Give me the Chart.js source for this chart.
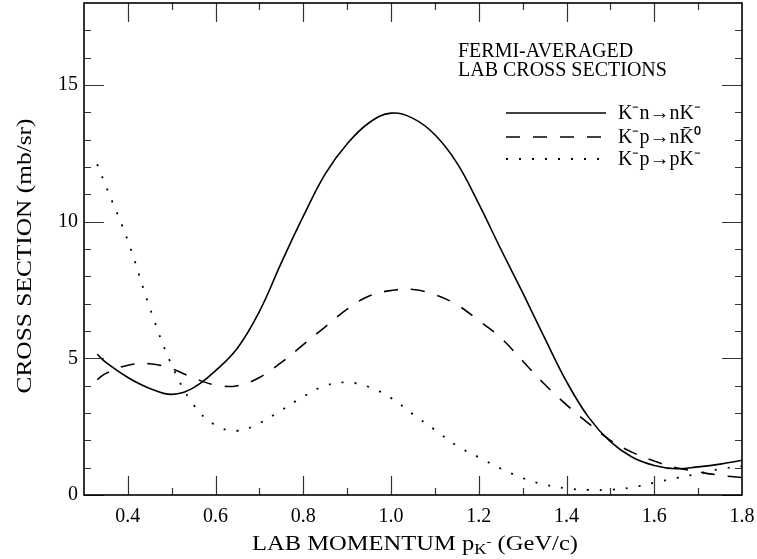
<!DOCTYPE html>
<html><head><meta charset="utf-8">
<script src="https://cdn.jsdelivr.net/npm/chart.js@4.4.0/dist/chart.umd.min.js"></script>
<style>html,body{margin:0;padding:0;background:#fff}canvas{display:block}</style>
</head><body>
<canvas id="c" width="757" height="559"></canvas>
<script>
// ---- data ----
const momentum = [0.33,0.35,0.40,0.45,0.50,0.55,0.60,0.65,0.70,0.75,0.80,0.85,0.90,0.95,1.00,1.05,1.10,1.15,1.20,1.25,1.30,1.35,1.40,1.45,1.50,1.55,1.60,1.65,1.70,1.75,1.80];
const knToNk  = [5.15,4.85,4.30,3.90,3.68,3.93,4.55,5.38,6.72,8.50,10.20,11.75,12.85,13.62,13.97,13.78,13.18,12.15,10.65,9.00,7.40,5.75,4.15,2.85,1.95,1.38,1.08,0.96,1.03,1.13,1.27];
const kpToNk0 = [4.22,4.45,4.75,4.80,4.62,4.28,4.02,4.00,4.30,4.85,5.50,6.15,6.80,7.28,7.48,7.52,7.33,6.96,6.38,5.75,4.90,4.05,3.30,2.62,2.00,1.56,1.24,1.00,0.85,0.72,0.64];
const kpToPk  = [12.10,11.30,9.30,6.85,4.75,3.30,2.55,2.35,2.63,3.10,3.60,4.00,4.12,3.95,3.55,2.95,2.38,1.80,1.38,0.97,0.62,0.38,0.24,0.19,0.19,0.28,0.45,0.62,0.78,0.95,1.05];
const seriesLabels = ['K\u207Bn\u2192nK\u207B', 'K\u207Bp\u2192nK\u0304\u2070', 'K\u207Bp\u2192pK\u207B'];
const xTickValues = [0.4,0.6,0.8,1.0,1.2,1.4,1.6,1.8];
const yTickValues = [0,5,10,15];
const xMinorStep = 0.1, yMinorStep = 1;
const headerLines = ['FERMI-AVERAGED', 'LAB CROSS SECTIONS'];
const yTitle = 'CROSS SECTION (mb/sr)';
const xTitleParts = ['LAB MOMENTUM p', 'K', '-', ' (GeV/c)'];

const FONT = '"Liberation Serif", serif';
const toPoints = ys => momentum.map((x, i) => ({x, y: ys[i]}));

const framePlugin = {
  id: 'frame',
  afterDraw(chart) {
    const {ctx, chartArea: a, scales: {x, y}} = chart;
    ctx.save();
    // inner ticks on all four sides
    ctx.strokeStyle = '#333';
    ctx.lineWidth = 1.2;
    ctx.setLineDash([]);
    const nx = Math.round((x.max - x.min) / xMinorStep);
    for (let k = 1; k < nx; k++) {
      const v = x.min + k * xMinorStep;
      const major = xTickValues.some(t => Math.abs(t - v) < 1e-6);
      const len = major ? 19 : 7;
      const px = Math.round(x.getPixelForValue(v)) + 0.5;
      ctx.beginPath();
      ctx.moveTo(px, a.bottom); ctx.lineTo(px, a.bottom - len);
      ctx.moveTo(px, a.top); ctx.lineTo(px, a.top + len);
      ctx.stroke();
    }
    const ny = Math.round((y.max - y.min) / yMinorStep);
    for (let k = 0; k < ny; k++) {
      const v = y.min + k * yMinorStep;
      const major = yTickValues.some(t => Math.abs(t - v) < 1e-6);
      const len = major ? 20 : 7;
      const py = Math.round(y.getPixelForValue(v)) + 0.5;
      ctx.beginPath();
      ctx.moveTo(a.left, py); ctx.lineTo(a.left + len, py);
      ctx.moveTo(a.right, py); ctx.lineTo(a.right - len, py);
      ctx.stroke();
    }
    // frame
    ctx.strokeStyle = '#000';
    ctx.lineWidth = 1.6;
    ctx.strokeRect(a.left, a.top, a.right - a.left, a.bottom - a.top);

    // header text
    ctx.fillStyle = '#000';
    ctx.font = '20px ' + FONT;
    ctx.textAlign = 'left';
    ctx.textBaseline = 'alphabetic';
    ctx.fillText(headerLines[0], 458, 57);
    ctx.fillText(headerLines[1], 458, 76);

    // legend
    const rows = [113, 137, 159];
    chart.data.datasets.forEach((ds, i) => {
      ctx.strokeStyle = ds.borderColor;
      ctx.lineWidth = ds.borderWidth;
      ctx.setLineDash(ds.borderDash || []);
      ctx.beginPath();
      ctx.moveTo(506, rows[i]); ctx.lineTo(606, rows[i]);
      ctx.stroke();
      ctx.setLineDash([]);
      ctx.textBaseline = 'middle';
      ctx.font = '20px ' + FONT;
      ctx.fillText(seriesLabels[i], 618, rows[i] + 1);
    });

    // y title (stretched horizontally to the reference's wide glyphs)
    ctx.save();
    ctx.font = '21px ' + FONT;
    const wy = ctx.measureText(yTitle).width;
    ctx.translate(25, 256);
    ctx.rotate(-Math.PI / 2);
    ctx.scale(275 / wy, 1);
    ctx.textAlign = 'center';
    ctx.textBaseline = 'middle';
    ctx.fillText(yTitle, 0, 0);
    ctx.restore();

    // x title with subscript, stretched to reference width
    const main = '20px ' + FONT, sub = '14px ' + FONT, sup = '12px ' + FONT;
    ctx.textBaseline = 'alphabetic';
    ctx.textAlign = 'left';
    ctx.font = main; const w0 = ctx.measureText(xTitleParts[0]).width;
    ctx.font = sub; const w1 = ctx.measureText(xTitleParts[1]).width;
    ctx.font = sup; const w2 = ctx.measureText(xTitleParts[2]).width;
    ctx.font = main; const w3 = ctx.measureText(xTitleParts[3]).width;
    const total = w0 + w1 + w2 + w3;
    const sx = 326 / total;
    ctx.save();
    ctx.translate(415 - 163, 550);
    ctx.scale(sx, 1);
    let cx = 0;
    ctx.font = main; ctx.fillText(xTitleParts[0], cx, 0); cx += w0;
    ctx.font = sub; ctx.fillText(xTitleParts[1], cx, 4); cx += w1;
    ctx.font = sup; ctx.fillText(xTitleParts[2], cx, -4); cx += w2;
    ctx.font = main; ctx.fillText(xTitleParts[3], cx, 0);
    ctx.restore();
    ctx.restore();
  }
};

new Chart(document.getElementById('c'), {
  type: 'line',
  data: {
    datasets: [
      {label: seriesLabels[0], data: toPoints(knToNk), borderColor: '#000', borderWidth: 1.6, borderDash: [], pointRadius: 0, tension: 0.4, fill: false},
      {label: seriesLabels[1], data: toPoints(kpToNk0), borderColor: '#000', borderWidth: 1.6, borderDash: [14, 13], pointRadius: 0, tension: 0.4, fill: false},
      {label: seriesLabels[2], data: toPoints(kpToPk), borderColor: '#000', borderWidth: 1.8, borderDash: [2, 11], pointRadius: 0, tension: 0.4, fill: false}
    ]
  },
  options: {
    responsive: false,
    animation: false,
    devicePixelRatio: 1,
    layout: {padding: {left: 0, right: 15, top: 3, bottom: 0}},
    plugins: {legend: {display: false}, tooltip: {enabled: false}, title: {display: false}},
    scales: {
      x: {
        type: 'linear', min: 0.3, max: 1.8,
        grid: {display: false, drawTicks: false},
        border: {display: false},
        afterBuildTicks: s => { s.ticks = xTickValues.map(v => ({value: v})); },
        afterFit: s => { s.height = 64; s.paddingLeft = 0; s.paddingRight = 0; },
        ticks: {padding: 10, color: '#000', font: {family: FONT, size: 20}, maxRotation: 0, callback: v => Number(v).toFixed(1)}
      },
      y: {
        type: 'linear', min: 0, max: 18,
        grid: {display: false, drawTicks: false},
        border: {display: false},
        afterBuildTicks: s => { s.ticks = yTickValues.map(v => ({value: v})); },
        afterFit: s => { s.width = 84; s.paddingTop = 0; s.paddingBottom = 0; },
        ticks: {padding: 6, color: '#000', font: {family: FONT, size: 20}, callback: v => String(v)}
      }
    }
  },
  plugins: [framePlugin]
});
</script>
</body></html>
